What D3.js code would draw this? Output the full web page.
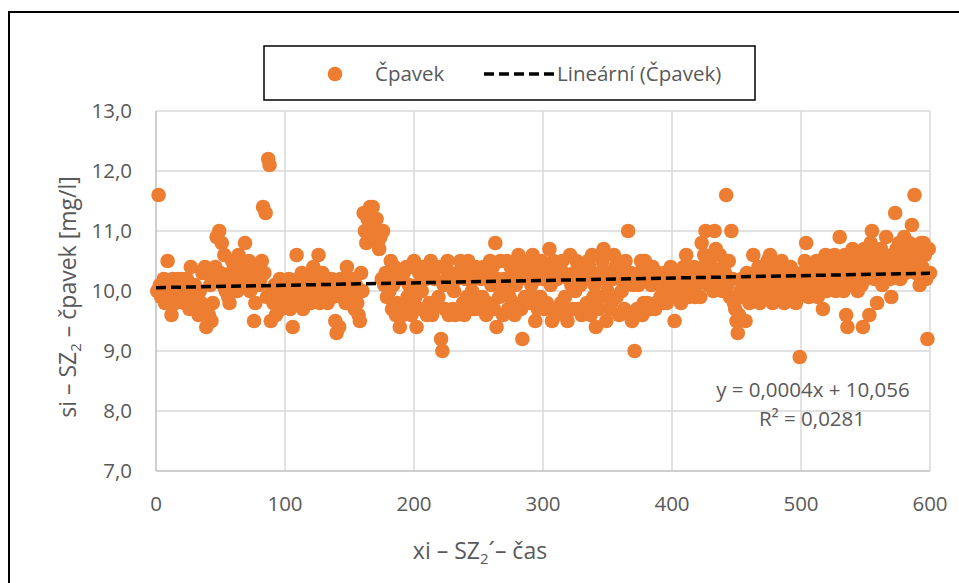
<!DOCTYPE html>
<html>
<head>
<meta charset="utf-8">
<script src="https://cdn.jsdelivr.net/npm/d3@7"></script>
<style>
  body { margin: 0; background: #fff; }
  text { font-family: "Open Sans", sans-serif; fill: #595959; }
</style>
</head>
<body>
<div id="chart"></div>
<script>
// measured values, x = 1..600 (one per row of 10)
const values = [
  10.0, 11.6, 10.1, 9.9, 10.0, 10.2, 9.8, 10.0, 10.5, 10.1,
  9.9, 9.6, 10.2, 10.0, 9.8, 10.1, 10.2, 9.9, 10.0, 10.2,
  10.0, 9.8, 10.1, 10.2, 9.9, 9.7, 10.4, 10.0, 9.8, 10.1,
  9.9, 9.7, 9.6, 10.0, 9.8, 10.3, 9.7, 10.4, 9.4, 10.3,
  9.6, 10.1, 9.5, 9.8, 10.3, 10.4, 10.9, 10.2, 11.0, 10.3,
  10.8, 10.1, 10.6, 10.0, 10.2, 9.9, 9.8, 10.3, 10.5, 10.1,
  10.4, 10.2, 10.0, 10.6, 10.3, 10.5, 10.2, 10.4, 10.8, 10.3,
  10.1, 10.5, 10.0, 10.4, 10.2, 9.5, 9.8, 10.3, 10.4, 10.1,
  10.2, 10.5, 11.4, 10.3, 11.3, 9.9, 12.2, 12.1, 9.5, 10.0,
  9.8, 10.1, 9.6, 10.0, 9.9, 10.2, 9.7, 10.1, 10.0, 9.8,
  10.1, 9.9, 10.2, 9.7, 10.0, 9.4, 10.1, 9.8, 10.6, 10.2,
  9.9, 10.0, 10.3, 9.7, 9.8, 10.1, 10.0, 9.9, 10.2, 9.8,
  10.1, 10.4, 9.9, 10.0, 10.2, 10.6, 9.8, 10.1, 10.3, 9.9,
  10.0, 10.2, 9.8, 10.1, 10.0, 10.2, 9.9, 10.1, 9.5, 9.3,
  10.0, 9.4, 10.2, 9.9, 10.1, 10.0, 9.8, 10.4, 10.2, 10.1,
  10.0, 9.9, 10.2, 9.7, 10.1, 9.8, 9.6, 9.5, 10.3, 10.0,
  11.3, 11.0, 10.8, 11.2, 10.9, 11.4, 11.1, 11.4, 10.9, 11.2,
  11.2, 10.8, 10.7, 10.9, 10.2, 11.0, 10.1, 10.3, 9.9, 10.2,
  10.0, 10.5, 9.7, 10.1, 10.4, 9.6, 9.8, 10.2, 9.4, 10.3,
  9.6, 10.3, 9.7, 10.4, 9.9, 10.1, 10.4, 9.6, 9.8, 10.5,
  9.9, 9.4, 10.1, 10.3, 9.7, 10.0, 10.4, 9.7, 10.2, 9.6,
  10.3, 9.8, 10.5, 9.6, 9.7, 10.2, 10.4, 9.8, 9.9, 10.4,
  9.2, 9.0, 10.1, 9.7, 10.2, 10.5, 9.6, 10.3, 10.1, 9.7,
  10.0, 9.6, 10.2, 9.7, 10.3, 10.5, 10.4, 9.8, 9.6, 10.2,
  9.9, 10.5, 10.3, 9.7, 10.0, 10.2, 9.7, 10.4, 9.9, 10.3,
  9.7, 10.2, 9.9, 10.4, 10.3, 9.6, 9.8, 10.2, 10.5, 10.1,
  10.4, 9.7, 10.8, 9.4, 10.2, 9.9, 10.5, 10.1, 9.6, 10.2,
  10.0, 10.5, 9.7, 9.9, 10.4, 10.2, 9.8, 9.6, 10.1, 10.4,
  10.6, 10.2, 9.7, 9.2, 10.3, 9.9, 10.5, 10.2, 9.8, 10.4,
  10.1, 10.6, 9.9, 9.5, 10.2, 9.7, 10.3, 9.9, 10.5, 10.2,
  9.7, 10.4, 9.8, 10.2, 10.7, 10.1, 9.5, 10.5, 10.3, 9.6,
  10.2, 9.7, 10.4, 9.8, 10.5, 10.3, 9.9, 9.6, 9.5, 10.2,
  10.6, 10.1, 9.7, 10.3, 10.0, 10.5, 9.7, 10.4, 10.1, 9.6,
  10.2, 9.7, 10.3, 9.8, 10.5, 10.4, 9.6, 10.6, 9.9, 10.1,
  9.4, 10.2, 9.7, 10.3, 9.9, 10.5, 10.7, 10.2, 9.5, 10.0,
  10.3, 9.7, 9.8, 10.2, 10.6, 10.4, 9.9, 10.5, 9.6, 10.2,
  10.0, 10.3, 9.7, 10.5, 10.2, 11.0, 9.6, 10.3, 9.5, 10.1,
  9.0, 10.2, 9.7, 10.1, 10.3, 10.5, 9.6, 9.8, 10.5, 10.2,
  9.8, 10.3, 9.7, 10.1, 10.4, 10.2, 9.7, 9.8, 10.3, 10.1,
  9.9, 10.2, 9.8, 10.3, 10.1, 9.8, 10.2, 9.9, 10.4, 10.1,
  9.9, 9.5, 10.2, 10.0, 10.3, 10.1, 9.8, 10.2, 10.4, 10.0,
  10.6, 10.1, 9.9, 10.3, 10.0, 10.2, 10.4, 9.9, 10.1, 10.3,
  10.2, 9.9, 10.8, 10.4, 10.6, 11.0, 10.3, 10.1, 10.5, 10.2,
  10.4, 10.0, 11.0, 10.7, 10.3, 10.1, 10.6, 10.2, 10.0, 10.4,
  10.3, 11.6, 10.1, 10.5, 9.9, 11.0, 10.2, 9.8, 9.7, 9.5,
  9.3, 9.6, 10.0, 10.2, 9.9, 10.1, 9.5, 10.3, 10.0, 9.8,
  10.2, 10.0, 10.6, 9.9, 10.3, 10.1, 10.4, 9.8, 10.2, 10.0,
  10.3, 10.1, 9.9, 10.5, 10.2, 10.6, 10.0, 9.8, 10.3, 10.1,
  10.0, 10.4, 9.9, 10.2, 10.5, 10.1, 9.8, 10.3, 10.0, 10.2,
  9.9, 10.4, 10.1, 10.0, 10.3, 9.8, 10.2, 9.9, 8.9, 10.1,
  10.3, 10.0, 10.5, 10.8, 10.2, 9.9, 10.4, 10.1, 10.3, 10.0,
  10.2, 10.5, 9.9, 10.3, 10.1, 10.4, 9.7, 10.2, 10.6, 10.0,
  10.3, 10.5, 10.1, 10.4, 10.2, 10.6, 10.0, 10.3, 10.5, 10.9,
  10.2, 10.4, 10.0, 10.6, 9.6, 9.4, 10.3, 10.5, 10.1, 10.7,
  10.4, 10.2, 10.6, 10.0, 10.3, 10.5, 10.1, 9.4, 10.7, 10.2,
  10.5, 10.3, 9.6, 10.8, 11.0, 10.4, 10.2, 10.6, 9.8, 10.3,
  10.5, 10.7, 10.1, 10.4, 10.6, 10.9, 10.3, 10.5, 10.2, 9.9,
  10.6, 10.4, 11.3, 10.7, 10.5, 10.8, 10.2, 10.6, 10.4, 10.9,
  10.3, 10.7, 10.5, 10.8, 10.4, 11.1, 10.6, 11.6, 10.3, 10.7,
  10.5, 10.1, 10.8, 10.4, 10.8, 10.6, 10.2, 9.2, 10.7, 10.3
];

const xTicks = [0, 100, 200, 300, 400, 500, 600];
const yTicks = [7, 8, 9, 10, 11, 12, 13];

// trendline as given in the chart label
const slope = 0.0004, intercept = 10.056;
const eqLabel = "y = 0,0004x + 10,056";
const r2Label = "R² = 0,0281";

const W = 959, H = 583;
const plot = {left: 156, right: 930, top: 111, bottom: 471};

const svg = d3.select("#chart").append("svg")
    .attr("width", W)
    .attr("height", H);

// outer chart border
svg.append("rect")
    .attr("x", 9).attr("y", 12)
    .attr("width", 1000).attr("height", 1000)
    .attr("fill", "none")
    .attr("stroke", "#000")
    .attr("stroke-width", 2);

const x = d3.scaleLinear().domain([0, 600]).range([plot.left, plot.right]);
const y = d3.scaleLinear().domain([7, 13]).range([plot.bottom, plot.top]);

const fmt = d => d3.format(".1f")(d).replace(".", ",");

// gridlines
svg.append("g").selectAll("line")
  .data(yTicks.filter(d => d > 7))
  .join("line")
    .attr("x1", plot.left).attr("x2", plot.right)
    .attr("y1", d => y(d)).attr("y2", d => y(d))
    .attr("stroke", "#d9d9d9").attr("stroke-width", 1.5);

svg.append("g").selectAll("line")
  .data(xTicks.filter(d => d > 0))
  .join("line")
    .attr("x1", d => x(d)).attr("x2", d => x(d))
    .attr("y1", plot.top).attr("y2", plot.bottom)
    .attr("stroke", "#d9d9d9").attr("stroke-width", 1.5);

// axis lines
svg.append("line")
    .attr("x1", x(0)).attr("x2", x(0))
    .attr("y1", plot.top).attr("y2", plot.bottom)
    .attr("stroke", "#bfbfbf").attr("stroke-width", 1.5);
svg.append("line")
    .attr("x1", plot.left).attr("x2", plot.right)
    .attr("y1", y(7)).attr("y2", y(7))
    .attr("stroke", "#bfbfbf").attr("stroke-width", 1.5);

// tick labels
svg.append("g").selectAll("text")
  .data(yTicks)
  .join("text")
    .attr("x", plot.left - 24)
    .attr("y", d => y(d) + 7)
    .attr("text-anchor", "end")
    .style("font-size", "20.5px")
    .text(fmt);

svg.append("g").selectAll("text")
  .data(xTicks)
  .join("text")
    .attr("x", d => x(d))
    .attr("y", 511)
    .attr("text-anchor", "middle")
    .style("font-size", "20.5px")
    .text(d => d);

// points
svg.append("g").selectAll("circle")
  .data(values)
  .join("circle")
    .attr("cx", (d, i) => x(i + 1))
    .attr("cy", d => y(d))
    .attr("r", 7.3)
    .attr("fill", "#ed7d31");

// trendline
svg.append("line")
    .attr("x1", x(0)).attr("y1", y(intercept))
    .attr("x2", x(600)).attr("y2", y(intercept + slope * 600))
    .attr("stroke", "#000")
    .attr("stroke-width", 3.5)
    .attr("stroke-dasharray", "10,5");

svg.append("text")
    .attr("x", 813).attr("y", 397)
    .attr("text-anchor", "middle")
    .style("font-size", "20.5px")
    .text(eqLabel);
svg.append("text")
    .attr("x", 812).attr("y", 426)
    .attr("text-anchor", "middle")
    .style("font-size", "20.5px")
    .text(r2Label);

// axis titles
const yTitle = svg.append("text")
    .attr("transform", "translate(76,297) rotate(-90)")
    .attr("text-anchor", "middle")
    .style("font-size", "23px");
yTitle.append("tspan").text("si – SZ");
yTitle.append("tspan").attr("dy", 5).style("font-size", "15px").text("2");
yTitle.append("tspan").attr("dy", -5).text(" – čpavek [mg/l]");

const xTitle = svg.append("text")
    .attr("x", 480).attr("y", 559)
    .attr("text-anchor", "middle")
    .style("font-size", "23px");
xTitle.append("tspan").text("xi – SZ");
xTitle.append("tspan").attr("dy", 5).style("font-size", "15px").text("2");
xTitle.append("tspan").attr("dy", -5).text("´– čas");

// legend
const legend = svg.append("g");
legend.append("rect")
    .attr("x", 264).attr("y", 46)
    .attr("width", 491).attr("height", 54)
    .attr("fill", "#fff")
    .attr("stroke", "#000")
    .attr("stroke-width", 1.5);
legend.append("circle")
    .attr("cx", 335).attr("cy", 74).attr("r", 7.3)
    .attr("fill", "#ed7d31");
legend.append("text")
    .attr("x", 375).attr("y", 81)
    .style("font-size", "20.5px")
    .text("Čpavek");
legend.append("line")
    .attr("x1", 484).attr("x2", 555)
    .attr("y1", 74).attr("y2", 74)
    .attr("stroke", "#000")
    .attr("stroke-width", 3.5)
    .attr("stroke-dasharray", "10,5");
legend.append("text")
    .attr("x", 557).attr("y", 81)
    .style("font-size", "20.5px")
    .text("Lineární (Čpavek)");
</script>
</body>
</html>
